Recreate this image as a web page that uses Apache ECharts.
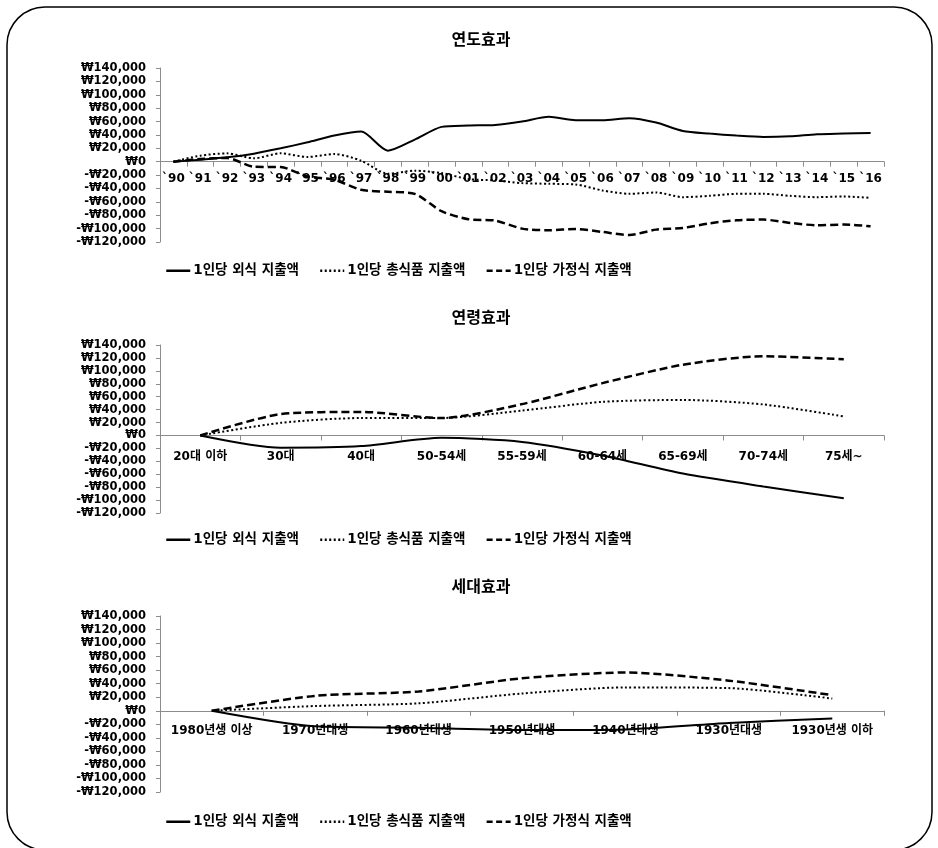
<!DOCTYPE html>
<html>
<head>
<meta charset="utf-8">
<script src="https://cdn.jsdelivr.net/npm/echarts@6/dist/echarts.min.js"></script>
<style>
  html, body { margin: 0; padding: 0; background: #ffffff; }
  #chart { width: 938px; height: 848px; }
</style>
</head>
<body>
<div id="chart"></div>
<script>
// Series names shared by all three panels
const seriesNames = ['1인당 외식 지출액', '1인당 총식품 지출액', '1인당 가정식 지출액'];

// Panel titles
const panelTitles = ['연도효과', '연령효과', '세대효과'];

// Year effect (1990–2016)
const yearLabels = ['`90', '`91', '`92', '`93', '`94', '`95', '`96', '`97', '`98', '`99', '`00', '`01', '`02',
  '`03', '`04', '`05', '`06', '`07', '`08', '`09', '`10', '`11', '`12', '`13', '`14', '`15', '`16'];
const yearDiningOut = [0, 3000, 6500, 12000, 20000, 29000, 39000, 45000, 16500, 33000, 52000, 54000, 55000,
  60000, 67000, 62000, 62000, 65000, 58500, 46000, 42000, 39000, 37000, 38000, 41000, 42000, 43000];
const yearTotalFood = [0, 9000, 12500, 5000, 12500, 7000, 11500, 1500, -18000, -13500, -17000, -26000, -28000,
  -32000, -33000, -34000, -43000, -48000, -46000, -53000, -51000, -48000, -48000, -51000, -53000, -52000, -54000];
const yearHomeMeal = [0, 4000, 5500, -7500, -8000, -22000, -27000, -42000, -45000, -48000, -74000, -86000, -88000,
  -100000, -102500, -100500, -105000, -109500, -101500, -99000, -92000, -87500, -86500, -91500, -95000, -94000, -96500];

// Age effect
const ageLabels = ['20대 이하', '30대', '40대', '50-54세', '55-59세', '60-64세', '65-69세', '70-74세', '75세~'];
const ageDiningOut = [0, -19000, -16500, -3600, -10000, -31000, -59000, -79000, -97000];
const ageTotalFood = [0, 19500, 27000, 27000, 38500, 52000, 55000, 48000, 29500];
const ageHomeMeal = [0, 33000, 36500, 27000, 48500, 81000, 109500, 122500, 118000];

// Cohort effect
const cohortLabels = ['1980년생 이상', '1970년대생', '1960년대생', '1950년대생', '1940년대생', '1930년대생', '1930년생 이하'];
const cohortDiningOut = [0, -23000, -25000, -28500, -27500, -18000, -11500];
const cohortTotalFood = [0, 7000, 11000, 25500, 34500, 33500, 18000];
const cohortHomeMeal = [0, 22000, 28500, 48000, 56500, 44500, 23000];

// Y-axis range shared by every panel
const yMin = -120000;
const yMax = 140000;
const yStep = 20000;

const FONT = '"DejaVu Sans", "Noto Sans CJK KR", sans-serif';
const TITLE_FONT = '"Noto Sans CJK KR", sans-serif';

const panels = [
  { cats: yearLabels, data: [yearDiningOut, yearTotalFood, yearHomeMeal], top: 68, height: 174, titleY: 31, legendY: 264, labelMargin: 11 },
  { cats: ageLabels, data: [ageDiningOut, ageTotalFood, ageHomeMeal], top: 345, height: 168, titleY: 309, legendY: 533, labelMargin: 15 },
  { cats: cohortLabels, data: [cohortDiningOut, cohortTotalFood, cohortHomeMeal], top: 616, height: 176, titleY: 578, legendY: 815, labelMargin: 14 }
];

const lineStyles = [
  { type: 'solid', width: 2 },
  { type: [2, 2.5], width: 2 },
  { type: [8, 4], width: 2.5 }
];
const legendDash = ['solid', [2, 2.5], [6, 3.5]];

function wonFormat(v) {
  const s = Math.abs(v).toLocaleString('en-US');
  return (v < 0 ? '-' : '') + '₩' + s;
}

// distance of the zero line above the bottom edge of a grid
function zeroLift(h) {
  return h * (0 - yMin) / (yMax - yMin);
}

const option = {
  backgroundColor: '#ffffff',
  animation: false,
  textStyle: { fontFamily: FONT },
  title: panels.map((p, i) => ({
    text: panelTitles[i],
    left: 481,
    textAlign: 'center',
    top: p.titleY,
    padding: 0,
    textStyle: { fontFamily: TITLE_FONT, fontSize: 16, fontWeight: 'bold', color: '#000' }
  })),
  legend: panels.map(p => ({
    data: seriesNames.map((n, k) => ({ name: n, lineStyle: { type: legendDash[k], width: 2.5 } })),
    left: 165,
    top: p.legendY,
    padding: 0,
    itemWidth: 24,
    itemHeight: 14,
    itemGap: 20,
    itemStyle: { opacity: 0 },
    textStyle: { fontFamily: FONT, fontSize: 13.5, fontWeight: 'bold', color: '#000', padding: [0, 0, 0, -2] }
  })),
  grid: panels.map(p => ({ left: 160, width: 724, top: p.top, height: p.height })),
  xAxis: panels.map((p, i) => ({
    type: 'category',
    gridIndex: i,
    data: p.cats,
    boundaryGap: true,
    position: 'bottom',
    offset: -zeroLift(p.height),
    axisLine: { onZero: false, lineStyle: { color: '#8c8c8c', width: 1 } },
    axisTick: { show: true, length: 5, lineStyle: { color: '#8c8c8c' } },
    axisLabel: { interval: 0, margin: p.labelMargin, fontFamily: FONT, fontSize: 12, fontWeight: 'bold', color: '#000' },
    splitLine: { show: false }
  })),
  yAxis: panels.map((p, i) => ({
    type: 'value',
    gridIndex: i,
    min: yMin,
    max: yMax,
    interval: yStep,
    axisLine: { show: true, lineStyle: { color: '#8c8c8c', width: 1 } },
    axisTick: { show: true, length: 4, lineStyle: { color: '#8c8c8c' } },
    axisLabel: { margin: 14, fontFamily: FONT, fontSize: 11.5, fontWeight: 'bold', color: '#000', formatter: wonFormat },
    splitLine: { show: false }
  })),
  series: [],
  graphic: [{
    type: 'rect',
    shape: { x: 7, y: 7, width: 925, height: 843, r: 38 },
    style: { fill: 'none', stroke: '#000', lineWidth: 1.5 },
    silent: true,
    z: 100
  }]
};

panels.forEach((p, i) => {
  seriesNames.forEach((name, k) => {
    option.series.push({
      name: name,
      type: 'line',
      xAxisIndex: i,
      yAxisIndex: i,
      data: p.data[k],
      smooth: 0.25,
      symbol: 'none',
      lineStyle: { color: '#000', type: lineStyles[k].type, width: lineStyles[k].width, cap: 'butt' },
      itemStyle: { color: '#000' }
    });
  });
});

const chart = echarts.init(document.getElementById('chart'), null, { renderer: 'canvas' });
chart.setOption(option);
</script>
</body>
</html>
